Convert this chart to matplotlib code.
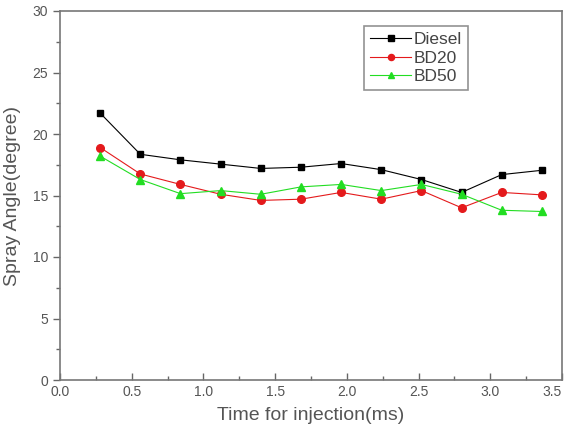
import matplotlib.pyplot as plt
from matplotlib.ticker import MultipleLocator, FixedLocator

# injection time (ms) and spray angle (degree)
time_ms = [0.28, 0.56, 0.84, 1.12, 1.40, 1.68, 1.96, 2.24, 2.52, 2.80, 3.08, 3.36]
diesel = [21.7, 18.35, 17.9, 17.55, 17.2, 17.3, 17.6, 17.1, 16.3, 15.25, 16.7, 17.05]
bd20 = [18.9, 16.75, 15.9, 15.1, 14.6, 14.7, 15.25, 14.7, 15.4, 14.0, 15.25, 15.05]
bd50 = [18.2, 16.3, 15.15, 15.4, 15.1, 15.7, 15.9, 15.4, 15.9, 15.1, 13.8, 13.7]
x_ticks = [0.0, 0.5, 1.0, 1.5, 2.0, 2.5, 3.0, 3.5]

TXT = '#555555'
plt.rcParams['font.family'] = ['Liberation Sans', 'DejaVu Sans']

fig = plt.figure(figsize=(5.7, 4.34), dpi=100)
ax = fig.add_axes([60/570, 1-380/434, 502/570, 369/434])

ax.plot(time_ms, diesel, color='black', lw=0.8, marker='s', ms=5, label='Diesel')
ax.plot(time_ms, bd20, color='#e41a1c', lw=0.8, marker='o', ms=5.5, label='BD20')
ax.plot(time_ms, bd50, color='#22dd22', lw=0.8, marker='^', ms=5.5, label='BD50')

ax.set_xlim(0, 3.5)
ax.set_ylim(0, 30)
ax.xaxis.set_major_locator(FixedLocator(x_ticks))
ax.xaxis.set_minor_locator(MultipleLocator(0.25))
ax.yaxis.set_major_locator(MultipleLocator(5))
ax.yaxis.set_minor_locator(MultipleLocator(2.5))
ax.tick_params(axis='x', which='both', direction='in', colors='#666666', labelcolor=TXT, labelsize=10)
ax.tick_params(axis='y', which='both', direction='out', colors='#666666', labelcolor=TXT, labelsize=10)
ax.tick_params(which='major', length=5, width=1)
ax.tick_params(which='minor', length=3, width=1)
ax.set_xticklabels([f'{v:.1f}' for v in x_ticks])
# last label sits on the figure edge, push it inward so it is not cut
ax.xaxis.get_major_ticks()[-1].label1.set_horizontalalignment('right')

for s in ax.spines.values():
    s.set_color('#777777')
    s.set_linewidth(1.2)

ax.set_xlabel('Time for injection(ms)', color=TXT, fontsize=14, labelpad=6)
ax.set_ylabel('Spray Angle(degree)', color=TXT, fontsize=14, labelpad=8)

leg = ax.legend(loc='upper left', bbox_to_anchor=(0.605, 0.96), fancybox=False,
                edgecolor='#777777', fontsize=12.5, handlelength=2.4, handletextpad=0.1,
                labelspacing=0.2, borderpad=0.35, borderaxespad=0, markerscale=0.8)
for t in leg.get_texts():
    t.set_color('#444444')
leg.get_frame().set_linewidth(1.2)

fig.savefig('out.png', dpi=100)
